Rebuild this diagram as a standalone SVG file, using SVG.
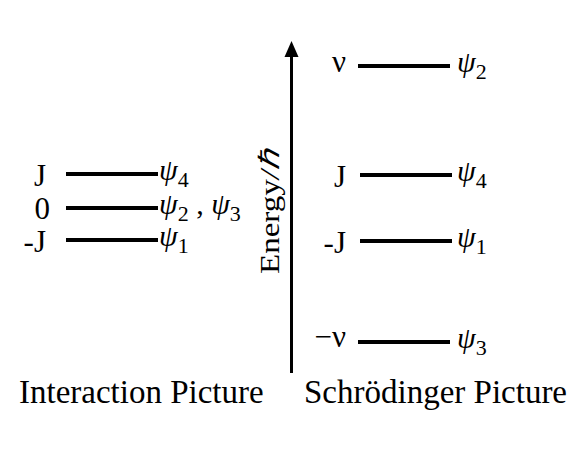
<svg xmlns="http://www.w3.org/2000/svg" width="587" height="450" viewBox="0 0 587 450">
<style>
text{font-family:"Liberation Serif","Times New Roman",serif;fill:#000}
.r{font-size:31px;text-anchor:end}
.p{font-size:30px;font-style:italic}
.s{font-size:22px;font-style:normal}
.n{font-style:normal}
.lvl{stroke:#000;stroke-width:4}
.ax{stroke:#000;stroke-width:3}
.ti{font-size:33px}
</style>
<g id="connectors">
<line class="ax" x1="291.5" y1="373" x2="291.5" y2="55"/>
<polygon points="291.5,41 284.5,57 298.5,57" fill="#000"/>
</g>
<g id="axis-label">
<text font-size="28" transform="translate(279,274) rotate(-90) scale(1.18,1)">Energy<tspan font-style="italic">/ℏ</tspan></text>
</g>
<g id="int-J">
<line class="lvl" x1="66" y1="174" x2="158" y2="174"/>
<text class="r" x="46" y="186">J</text>
<text class="p" x="159" y="180">ψ<tspan class="s" dy="7">4</tspan></text>
</g>
<g id="int-0">
<line class="lvl" x1="66" y1="208" x2="158" y2="208"/>
<text class="r" x="50" y="219">0</text>
<text class="p" x="159" y="214">ψ<tspan class="s" dy="7">2</tspan><tspan class="n" dy="-7"> ,  </tspan>ψ<tspan class="s" dy="7">3</tspan></text>
</g>
<g id="int-mJ">
<line class="lvl" x1="66" y1="240" x2="158" y2="240"/>
<text class="r" x="46" y="252">-J</text>
<text class="p" x="159" y="246">ψ<tspan class="s" dy="7">1</tspan></text>
</g>
<g id="sch-nu">
<line class="lvl" x1="358" y1="66" x2="450" y2="66"/>
<text class="r" x="346" y="72">ν</text>
<text class="p" x="457" y="72">ψ<tspan class="s" dy="7">2</tspan></text>
</g>
<g id="sch-J">
<line class="lvl" x1="360" y1="175" x2="452" y2="175"/>
<text class="r" x="346" y="187">J</text>
<text class="p" x="457" y="181">ψ<tspan class="s" dy="7">4</tspan></text>
</g>
<g id="sch-mJ">
<line class="lvl" x1="360" y1="241" x2="452" y2="241"/>
<text class="r" x="346" y="253">-J</text>
<text class="p" x="457" y="247">ψ<tspan class="s" dy="7">1</tspan></text>
</g>
<g id="sch-mnu">
<line class="lvl" x1="358" y1="342" x2="450" y2="342"/>
<text class="r" x="346" y="347">−ν</text>
<text class="p" x="457" y="348">ψ<tspan class="s" dy="7">3</tspan></text>
</g>
<g id="titles">
<text class="ti" x="19" y="403">Interaction Picture</text>
<text class="ti" x="304" y="403">Schrödinger Picture</text>
</g>
</svg>
